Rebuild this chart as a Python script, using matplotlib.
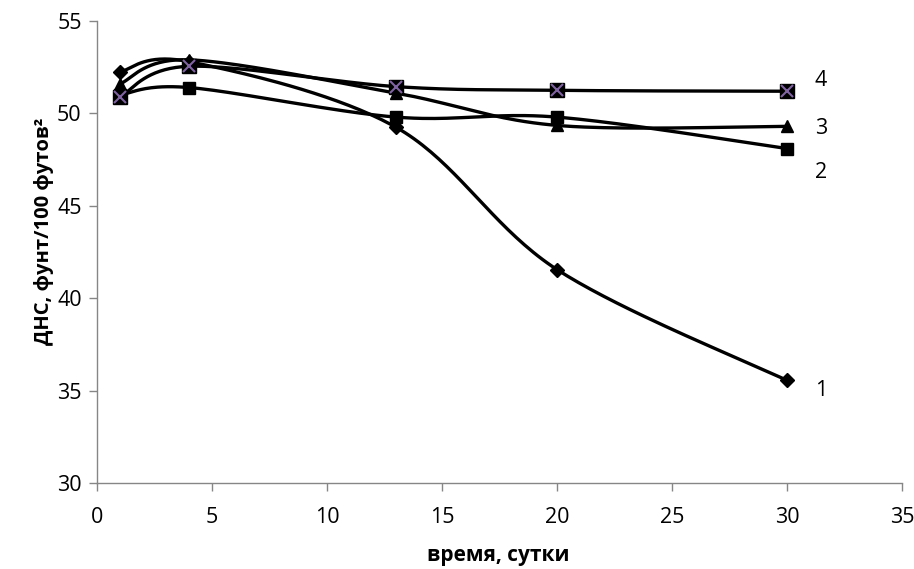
import numpy as np
import matplotlib
matplotlib.use("Agg")
import matplotlib.pyplot as plt

days = [1, 4, 13, 20, 30]
s1 = [52.25, 52.8, 49.25, 41.55, 35.55]
s2 = [51.0, 51.4, 49.8, 49.8, 48.1]
s3 = [51.6, 52.9, 51.1, 49.35, 49.3]
s4 = [50.9, 52.55, 51.45, 51.25, 51.2]
series_labels = ["1", "2", "3", "4"]
label_y = [35.0, 46.8, 49.2, 51.8]
xticks = [0, 5, 10, 15, 20, 25, 30, 35]
yticks = [30, 35, 40, 45, 50, 55]

plt.rcParams['font.family'] = ['Open Sans', 'DejaVu Sans']


def smooth(x, y, n=40):
    x = np.asarray(x, float)
    y = np.asarray(y, float)
    P = np.column_stack([x, y])
    pts = []
    for i in range(len(P) - 1):
        p0 = P[i - 1] if i > 0 else P[i]
        p1 = P[i]
        p2 = P[i + 1]
        p3 = P[i + 2] if i + 2 < len(P) else P[i + 1]
        c1 = p1 + (p2 - p0) / 6.0
        c2 = p2 - (p3 - p1) / 6.0
        t = np.linspace(0, 1, n)[:, None]
        b = ((1 - t) ** 3) * p1 + 3 * ((1 - t) ** 2) * t * c1 + 3 * (1 - t) * t ** 2 * c2 + t ** 3 * p2
        pts.append(b if i == 0 else b[1:])
    pts = np.vstack(pts)
    return pts[:, 0], pts[:, 1]


fig = plt.figure(figsize=(9.14, 5.69), dpi=100)
ax = fig.add_axes([97 / 914, 1 - 483 / 569, (902 - 97) / 914, (483 - 21) / 569])

lw = 2.4
for ys, mk, ms in [(s1, 'D', 7), (s2, 's', 8.5), (s3, '^', 9)]:
    sx, sy = smooth(days, ys)
    ax.plot(sx, sy, color='black', lw=lw, zorder=2)
    ax.plot(days, ys, ls='none', marker=mk, ms=ms, color='black', zorder=3)
sx, sy = smooth(days, s4)
ax.plot(sx, sy, color='black', lw=lw, zorder=2)
ax.plot(days, s4, ls='none', marker='s', ms=10, color='black', zorder=4)
ax.plot(days, s4, ls='none', marker='x', ms=9, mew=1.5, color='#8064A2', zorder=5)

for lab, ly in zip(series_labels, label_y):
    ax.text(31.2, ly, lab, fontsize=15.5, va='center', ha='left')

ax.set_xlim(0, 35)
ax.set_ylim(30, 55)
ax.set_xticks(xticks)
ax.set_yticks(yticks)
for s in ['top', 'right']:
    ax.spines[s].set_visible(False)
for s in ['left', 'bottom']:
    ax.spines[s].set_color('#868686')
    ax.spines[s].set_linewidth(1.0)
ax.tick_params(axis='both', colors='#868686', length=6, width=1.0, labelcolor='black', labelsize=15.5)
ax.tick_params(axis='x', pad=11)
ax.tick_params(axis='y', pad=5)
ax.set_xlabel('время, сутки', fontsize=15, fontweight='bold')
ax.set_ylabel('ДНС, фунт/100 футов²', fontsize=14.5, fontweight='bold')
ax.xaxis.set_label_coords(0.498, -0.158)
ax.xaxis.label.set_va('center')
ax.yaxis.set_label_coords(-0.066, 0.545)
ax.yaxis.label.set_va('center')

fig.savefig('out.png', dpi=100)
